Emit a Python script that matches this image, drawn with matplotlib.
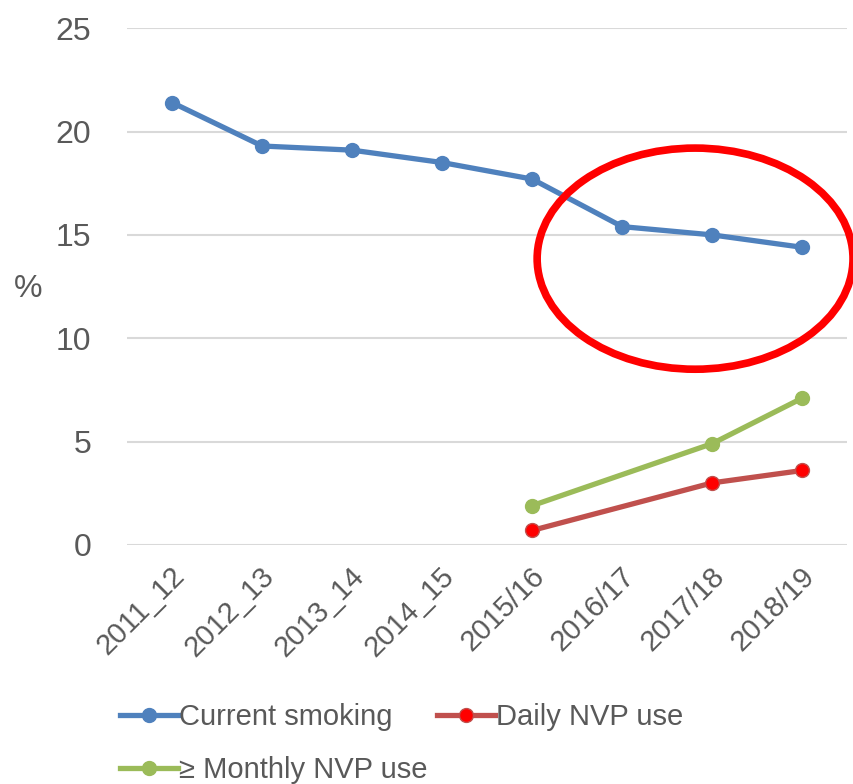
import numpy as np
import matplotlib.pyplot as plt
from matplotlib.patches import Ellipse
import matplotlib.transforms as mtransforms

plt.rcParams['font.family'] = ['Liberation Sans', 'DejaVu Sans']

# Daten
jahre = ['2011_12', '2012_13', '2013_14', '2014_15', '2015/16', '2016/17', '2017/18', '2018/19']
rauchen = [21.4, 19.3, 19.1, 18.5, 17.7, 15.4, 15.0, 14.4]
nvp_taeglich = [None, None, None, None, 0.7, None, 3.0, 3.6]
nvp_monatlich = [None, None, None, None, 1.9, None, 4.9, 7.1]

grau = '#595959'

fig = plt.figure(figsize=(8.54, 7.84), dpi=100)
ax = fig.add_axes([0.149, 0.305, 0.843, 0.659])

x = np.arange(len(jahre))


def punkte(werte):
    idx = [i for i, v in enumerate(werte) if v is not None]
    return idx, [werte[i] for i in idx]


l1, = ax.plot(x, rauchen, color='#4f81bd', lw=3.8, marker='o', ms=10,
              label='Current smoking', zorder=3)
xi, yi = punkte(nvp_taeglich)
l2, = ax.plot(xi, yi, color='#c0504d', lw=3.8, marker='o', ms=10, mfc='#ff0000',
              mec='#c0504d', mew=1, label='Daily NVP use', zorder=3)
xi, yi = punkte(nvp_monatlich)
l3, = ax.plot(xi, yi, color='#9bbb59', lw=3.8, marker='o', ms=10,
              label='\u2265 Monthly NVP use', zorder=3)

ax.set_xlim(-0.5, len(jahre) - 0.5)
ax.set_ylim(0, 25)
ax.set_yticks(range(0, 26, 5))
ax.grid(axis='y', color='#d9d9d9', lw=1.5)
ax.set_axisbelow(True)
for s in ax.spines.values():
    s.set_visible(False)
ax.tick_params(length=0, colors=grau, labelsize=23)
ax.tick_params(axis='y', pad=26)
ax.set_xticks(x)
ax.set_xticklabels(jahre, rotation=45, ha='right', rotation_mode='anchor', fontsize=21)
versatz = mtransforms.ScaledTranslation(-2 / 100, -12 / 100, fig.dpi_scale_trans)
for lab in ax.get_xticklabels():
    lab.set_transform(lab.get_transform() + versatz)

fig.text(0.016, 0.632, '%', fontsize=23, color=grau, va='center')

# rote Markierung
ell = Ellipse((5.81, 13.85), 3.51, 10.7, fill=False, edgecolor='#ff0000', lw=5.5,
              clip_on=False, zorder=5)
ax.add_patch(ell)

# Reihenfolge so, dass Zeile 1: Rauchen, Daily; Zeile 2: Monthly
leg = fig.legend([l1, l3, l2], [l1.get_label(), l3.get_label(), l2.get_label()],
                 loc='upper left', bbox_to_anchor=(0.14, 0.103), ncol=2, frameon=False,
                 fontsize=21, handlelength=2.0, handletextpad=0.05, columnspacing=0.3,
                 labelspacing=0.85, borderaxespad=0, borderpad=0)
for t in leg.get_texts():
    t.set_color(grau)

fig.savefig('out.png', dpi=100)
